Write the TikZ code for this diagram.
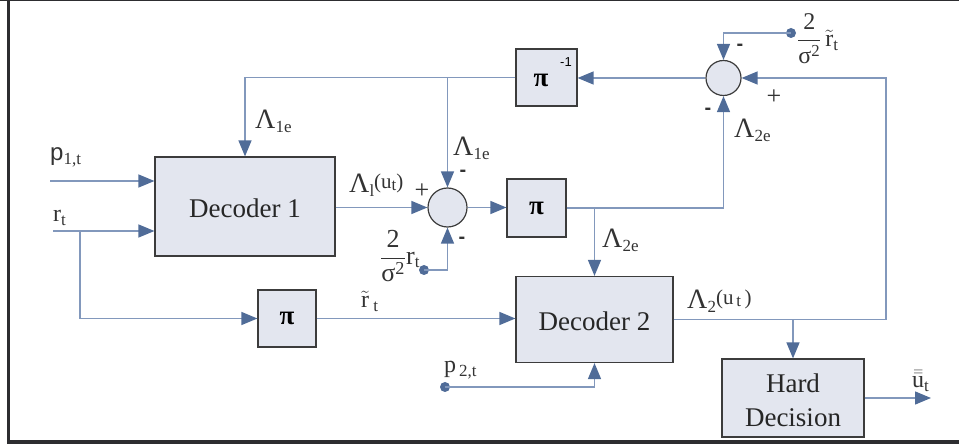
\documentclass[tikz,border=0pt]{standalone}
\usepackage{amsmath}
\usepackage{fontspec}
\setmainfont{Liberation Serif}
\newfontfamily\sansf{Liberation Sans}
\usetikzlibrary{arrows.meta,calc}
\definecolor{linecol}{RGB}{130,152,188}
\definecolor{arrcol}{RGB}{80,108,152}
\definecolor{boxfill}{RGB}{227,230,239}
\definecolor{boxdraw}{RGB}{60,60,60}
\definecolor{framecol}{RGB}{45,45,48}
\newcommand{\mysub}[1]{\raisebox{-0.3ex}{\fontsize{17}{17}\selectfont #1}}
\newcommand{\bigL}{{\fontsize{28}{30}\selectfont Λ}}
\begin{document}
\begin{tikzpicture}[x=1pt,y=-1pt,
  blk/.style={draw=boxdraw,line width=1.2pt,fill=boxfill,inner sep=0pt},
  sumnode/.style={circle,draw=boxdraw,line width=1.2pt,fill=boxfill,inner sep=0pt},
  conn/.style={draw=linecol,line width=1.4pt},
  arr/.style={conn,-{Triangle[length=16pt,width=13pt,fill=arrcol,color=arrcol]}},
  dotn/.style={circle,fill=arrcol,inner sep=0pt,minimum size=10pt},
  lab/.style={inner sep=0pt,text=black!80,font=\fontsize{24}{26}\selectfont},
  sgn/.style={inner sep=0pt,text=black!80,font=\sansf\bfseries\fontsize{20}{20}\selectfont},
  pls/.style={inner sep=0pt,text=black!80,font=\fontsize{26}{26}\selectfont}]
\useasboundingbox (0,0) rectangle (959,446);
% frame
\draw[framecol,line width=1.5pt] (0,0.75) -- (959,0.75);
\draw[framecol,line width=3pt] (8.5,0) -- (8.5,443);
\draw[framecol,line width=4pt] (7,441.5) -- (959,441.5);

% blocks
\node[blk,minimum width=180pt,minimum height=99pt] (dec1) at (245,206.5) {};
\node[inner sep=0pt,font=\fontsize{27}{30}\selectfont,text=black!85] (t1) at (245,208) {Decoder 1};
\node[blk,minimum width=157pt,minimum height=86pt] (dec2) at (594.5,319.5) {};
\node[inner sep=0pt,font=\fontsize{27}{30}\selectfont,text=black!85] (t2) at (594.5,321) {Decoder 2};
\node[blk,minimum width=58pt,minimum height=57pt,font=\bfseries\fontsize{27}{27}\selectfont] (piL) at (287,318.5) {π};
\node[blk,minimum width=59pt,minimum height=58pt,font=\bfseries\fontsize{27}{27}\selectfont] (piM) at (536.5,208) {π};
\node[blk,minimum width=61pt,minimum height=57pt] (piInv) at (546.5,77.5) {};
\node[inner sep=0pt,font=\bfseries\fontsize{27}{27}\selectfont] (piInvT) at (541,80) {π};
\node[inner sep=0pt,font=\sansf\fontsize{13}{13}\selectfont] (piSup) at (566,62) {-1};
\node[blk,minimum width=142pt,minimum height=78pt] (hard) at (793,398) {};
\node[inner sep=0pt,align=center,font=\fontsize{27}{34}\selectfont,text=black!85] (ht) at (793,400) {Hard\\Decision};
\node[sumnode,minimum size=35pt] (sumT) at (723.5,78) {};
\node[sumnode,minimum size=39pt] (sumL) at (447.5,207.5) {};

% dots and coordinates
\node[dotn] (dT) at (791,33) {};
\node[dotn] (dL) at (424,270) {};
\node[dotn] (dP) at (445,387) {};
\coordinate (p1s) at (50,181);
\coordinate (rs) at (53,231);
\coordinate (rb) at (80,231);
\coordinate (rc) at (886,78);
\coordinate (uout) at (931,398);

% connectors
\draw[arr] (p1s) -- (p1s -| dec1.west);
\draw[arr] (rs) -- (rs -| dec1.west);
\draw[arr] (rb) |- (piL.west);
\draw[arr] (piL.east) -- (piL.east -| dec2.west);
\draw[arr] (dP.center) -| (dec2.south);
\draw[arr] (dec1.east |- sumL) -- (sumL.west);
\draw[arr] (sumL.east) -- (sumL.east -| piM.west);
\draw[arr] (piM.east) -| (sumT.south);
\draw[arr] (piM.east -| dec2.north) -- (dec2.north);
\draw[arr] (dec2.east) -| (rc) -- (sumT.east);
\draw[arr] (dec2.east -| hard.north) -- (hard.north);
\draw[arr] (hard.east |- uout) -- (uout);
\draw[arr] (sumT.west) -- (sumT.west -| piInv.east);
\draw[arr] (piInv.west) -| (dec1.north);
\draw[arr] (piInv.west -| sumL.north) -- (sumL.north);
\draw[arr] (dT.center) -| (sumT.north);
\draw[arr] (dL.center) -| (sumL.south);

% labels
\node[lab,anchor=base west,font=\sansf\fontsize{24}{26}\selectfont] (lp1) at (50,161) {p\mysub{\rmfamily 1,t}};
\node[lab,anchor=base west] (lr) at (53,222) {r\mysub{t}};
\node[lab,anchor=base west] (lL1) at (255,129) {\bigL\mysub{1e}};
\node[lab,anchor=base west] (lL1b) at (453,156) {\bigL\mysub{1e}};
\node[sgn] (m1) at (463,173) {-};
\node[lab,anchor=base west] (lLu) at (349,193) {\bigL\mysub{l}\raisebox{0.45ex}{\fontsize{21}{21}\selectfont (u\mysub{t})}};
\node[pls] (pl1) at (422,191) {+};
\node[sgn] (m2) at (462,240) {-};
\node[lab,anchor=west,font=\fontsize{26}{28}\selectfont] (fL) at (380,256) {$\dfrac{\text{2}}{\text{σ}^{\text{2}}}$r\mysub{t}};
\node[lab,anchor=west,font=\fontsize{24}{26}\selectfont] (fT) at (797,39) {$\dfrac{\text{2}}{\text{σ}^{\text{2}}}$\,$\tilde{\text{r}}$\mysub{t}};
\node[sgn] (m3) at (740,47) {-};
\node[pls] (pl2) at (774,97) {+};
\node[sgn] (m4) at (708,111) {-};
\node[lab,anchor=base west] (lL2a) at (734,138) {\bigL\mysub{2e}};
\node[lab,anchor=base west] (lL2b) at (602,248) {\bigL\mysub{2e}};
\node[lab,anchor=base west] (lrt) at (361,308) {$\tilde{\text{r}}$\mysub{\ t}};
\node[lab,anchor=base west] (lL2u) at (687,309) {\bigL\mysub{2}\raisebox{0.45ex}{\fontsize{21}{21}\selectfont (u\mysub{\,t}\,)}};
\node[lab,anchor=base west] (lp2) at (444,373) {p\mysub{\,2,t}};
\node[lab,anchor=base west] (lu) at (912,388) {$\bar{\bar{\text{u}}}$\mysub{t}};
\end{tikzpicture}
\end{document}
